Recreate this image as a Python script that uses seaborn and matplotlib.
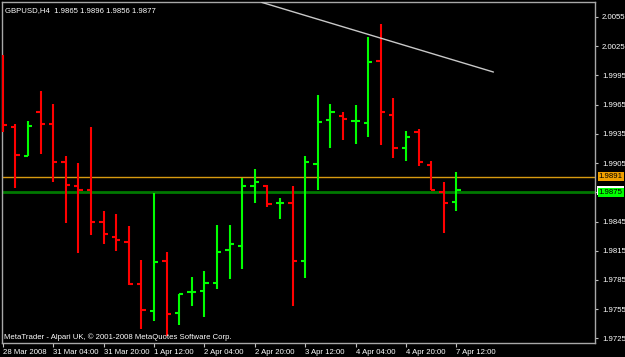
import matplotlib
matplotlib.use("Agg")
import matplotlib.pyplot as plt
from matplotlib.patches import Rectangle
import seaborn as sns
import numpy as np

# ---- data (GBPUSD, H4) ----
opens = [1.9990, 1.9942, 1.9912, 1.9957, 1.9945, 1.9906, 1.9882, 1.9877, 1.9845, 1.9829,
         1.9824, 1.9781, 1.9753, 1.9805, 1.9751, 1.9773, 1.9774, 1.9782, 1.9816, 1.9820,
         1.9881, 1.9882, 1.9864, 1.9864, 1.9804, 1.9904, 1.9949, 1.9953, 1.9948, 1.9946,
         2.0010, 1.9954, 1.9921, 1.9937, 1.9903, 1.9875, 1.9865]
highs = [2.0016, 1.9945, 1.9948, 1.9979, 1.9966, 1.9912, 1.9905, 1.9942, 1.9856, 1.9853,
         1.9840, 1.9806, 1.9874, 1.9814, 1.9771, 1.9788, 1.9794, 1.9841, 1.9841, 1.9890,
         1.9899, 1.9883, 1.9869, 1.9881, 1.9912, 1.9975, 1.9966, 1.9957, 1.9965, 2.0034,
         2.0048, 1.9972, 1.9938, 1.9940, 1.9907, 1.9886, 1.9896]
lows = [1.9937, 1.9879, 1.9912, 1.9914, 1.9886, 1.9843, 1.9813, 1.9831, 1.9822, 1.9815,
        1.9780, 1.9735, 1.9743, 1.9727, 1.9739, 1.9758, 1.9747, 1.9776, 1.9786, 1.9796,
        1.9864, 1.9860, 1.9848, 1.9758, 1.9787, 1.9877, 1.9921, 1.9929, 1.9925, 1.9932,
        1.9924, 1.9910, 1.9907, 1.9902, 1.9877, 1.9833, 1.9856]
closes = [1.9944, 1.9913, 1.9943, 1.9945, 1.9906, 1.9883, 1.9877, 1.9845, 1.9832, 1.9826,
          1.9781, 1.9754, 1.9803, 1.9750, 1.9771, 1.9773, 1.9782, 1.9814, 1.9822, 1.9882,
          1.9886, 1.9863, 1.9864, 1.9805, 1.9906, 1.9947, 1.9957, 1.9950, 1.9948, 2.0009,
          1.9957, 1.9920, 1.9932, 1.9906, 1.9877, 1.9864, 1.9877]

x_tick_labels = ["28 Mar 2008", "31 Mar 04:00", "31 Mar 20:00", "1 Apr 12:00", "2 Apr 04:00",
                 "2 Apr 20:00", "3 Apr 12:00", "4 Apr 04:00", "4 Apr 20:00", "7 Apr 12:00"]
y_ticks = [1.9725, 1.9755, 1.9785, 1.9815, 1.9845, 1.9875, 1.9905, 1.9935, 1.9965, 1.9995, 2.0025, 2.0055]

trend_x = [20.56, 38.94]
trend_y = [2.0070, 1.99985]

level_orange = 1.9891
level_green = 1.9875
bid_price = 1.9877

title = "GBPUSD,H4  1.9865 1.9896 1.9856 1.9877"
watermark = "MetaTrader - Alpari UK, \u00a9 2001-2008 MetaQuotes Software Corp."

# ---- style ----
sns.set_theme(style="dark")
plt.rcParams["font.family"] = ["Liberation Sans", "DejaVu Sans"]

fig = plt.figure(figsize=(6.25, 3.57), dpi=100, facecolor="black")
ax = fig.add_axes([2 / 625, 14 / 357, 593 / 625, 341 / 357])
ax.set_facecolor("black")

n = len(opens)
idx = np.arange(n)
o = np.array(opens); h = np.array(highs); l = np.array(lows); c = np.array(closes)
cols = np.where(c >= o, "#00ff00", "#ff0000")

lw = 1.5
ax.vlines(idx, l, h, colors=cols, lw=lw, capstyle="butt", zorder=3)
ax.hlines(o, idx - 0.34, idx, colors=cols, lw=lw, capstyle="butt", zorder=3)
ax.hlines(c, idx, idx + 0.34, colors=cols, lw=lw, capstyle="butt", zorder=3)

# horizontal levels
ax.axhline(level_orange, color="#d89a10", lw=1.0, zorder=2)
ax.axhline(level_green, color="#007800", lw=2.0, zorder=2)

# trendline
sns.lineplot(x=trend_x, y=trend_y, ax=ax, color="#c8c8c8", lw=1.0, zorder=4)

ax.set_xlim(-0.056, 47.0)
ax.set_ylim(1.97203, 2.00704)

# axes frame
for sp in ax.spines.values():
    sp.set_color("#a8a8a8")
    sp.set_linewidth(1.0)
    sp.set_visible(True)

ax.yaxis.tick_right()
ax.set_yticks(y_ticks)
# the 1.9875 tick label is covered by the green level tag that shows the same value
ax.set_yticklabels(["" if abs(v - level_green) < 1e-9 else f"{v:.4f}" for v in y_ticks])
ax.set_xticks(idx[::4][:len(x_tick_labels)])
ax.set_xticklabels(x_tick_labels, ha="left")
ax.tick_params(axis="y", which="both", right=True, left=False, length=2.5, width=0.8,
               color="#c0c0c0", labelcolor="white", labelsize=5.6, pad=2.5, direction="out")
ax.tick_params(axis="x", which="both", bottom=True, length=3, width=0.8,
               color="#c0c0c0", labelcolor="white", labelsize=5.6, pad=1.5, direction="out")
ax.grid(False)
ax.set_xlabel(""); ax.set_ylabel("")
leg = ax.get_legend()
if leg:
    leg.remove()

# price tags on right
ytr = ax.get_yaxis_transform()
tag_h = 0.00092
# bid tag (mostly hidden behind the green level tag)
ax.add_patch(Rectangle((1.0034, bid_price - tag_h / 2), 0.0455, tag_h,
                       transform=ytr, fc="white", ec="none", clip_on=False, zorder=9))
ax.text(1.0065, level_orange, f"{level_orange:.4f}", transform=ytr, ha="left", va="center",
        fontsize=5.6, color="black", clip_on=False, zorder=10,
        bbox=dict(boxstyle="square,pad=0.15", fc="#f0a000", ec="none"))
ax.text(1.0065, level_green, f"{level_green:.4f}", transform=ytr, ha="left", va="center",
        fontsize=5.6, color="black", clip_on=False, zorder=11,
        bbox=dict(boxstyle="square,pad=0.15", fc="#00ff00", ec="none"))

ax.text(0.0055, 0.985, title, transform=ax.transAxes, ha="left", va="top",
        fontsize=5.6, color="white", zorder=12)
ax.text(0.0035, 0.0185, watermark, transform=ax.transAxes, ha="left", va="center",
        fontsize=5.6, color="white", zorder=12)

fig.savefig("out.png", dpi=100, facecolor="black")
